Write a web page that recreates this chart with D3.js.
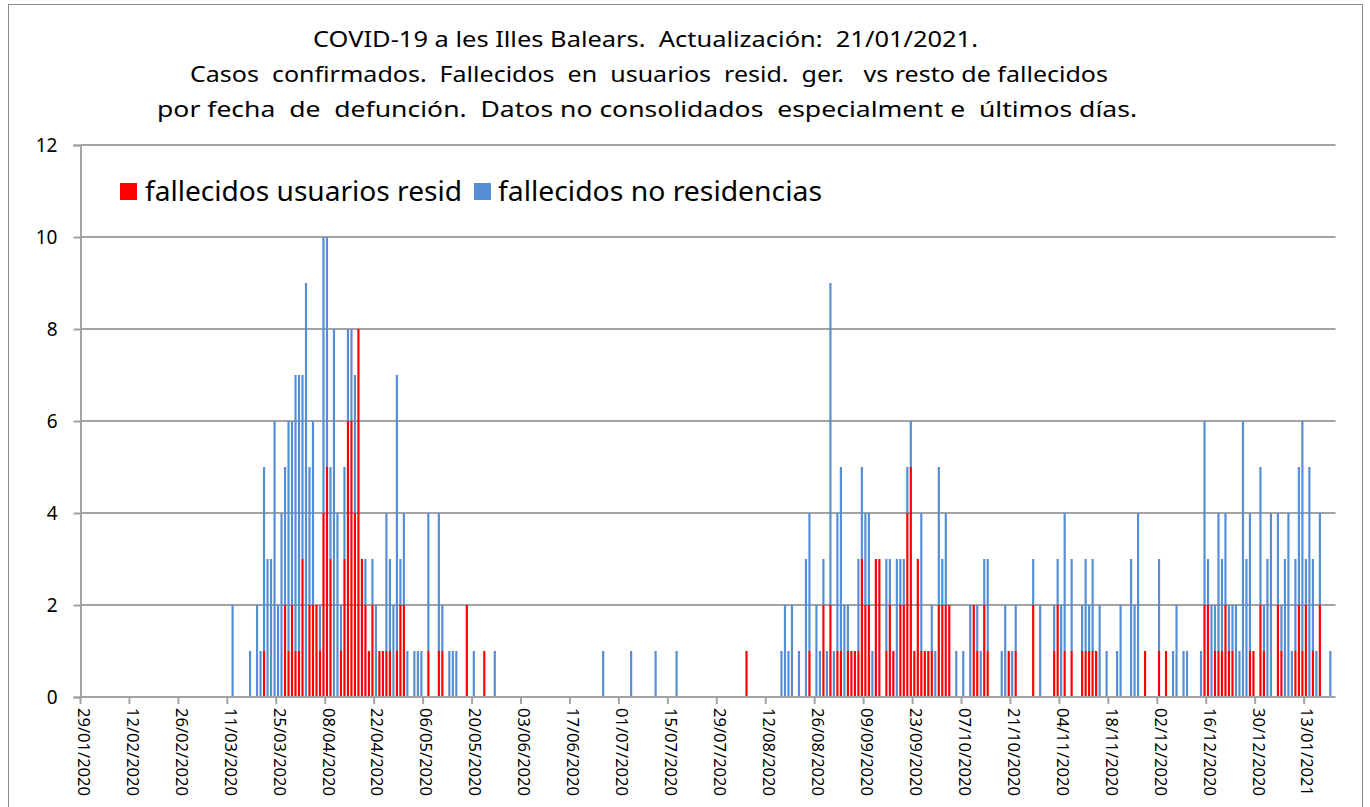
<!DOCTYPE html>
<html>
<head>
<meta charset="utf-8">
<script src="https://cdn.jsdelivr.net/npm/d3@7"></script>
<style>
  body { margin: 0; background: #fff; }
  svg { display: block; }
  text { font-family: "Noto Sans", "DejaVu Sans", sans-serif; fill: #000; white-space: pre; }
</style>
</head>
<body>
<svg id="chart" width="1370" height="807" xml:space="preserve"></svg>
<script>
// ---------------- DATA ----------------
const firstDay = "29/01/2020";
const dayCount = 359; // 29/01/2020 .. 21/01/2021

const titleLines = [
  "COVID-19 a les Illes Balears.  Actualización:  21/01/2021.",
  "Casos  confirmados.  Fallecidos  en  usuarios  resid.  ger.   vs resto de fallecidos",
  "por fecha  de  defunción.  Datos no consolidados  especialment e  últimos días."
];
const seriesNames = ["fallecidos usuarios resid", "fallecidos no residencias"];

const xTickLabels = [
  "29/01/2020","12/02/2020","26/02/2020","11/03/2020","25/03/2020","08/04/2020",
  "22/04/2020","06/05/2020","20/05/2020","03/06/2020","17/06/2020","01/07/2020",
  "15/07/2020","29/07/2020","12/08/2020","26/08/2020","09/09/2020","23/09/2020",
  "07/10/2020","21/10/2020","04/11/2020","18/11/2020","02/12/2020","16/12/2020",
  "30/12/2020","13/01/2021"
];
const yTicks = [0, 2, 4, 6, 8, 10, 12];

// deaths of nursing-home residents, one value per day from 29/01/2020 (10 days per line)
const residencias = [
  0,0,0,0,0,0,0,0,0,0,   // day 0
  0,0,0,0,0,0,0,0,0,0,   // 10
  0,0,0,0,0,0,0,0,0,0,   // 20
  0,0,0,0,0,0,0,0,0,0,   // 30
  0,0,0,0,0,0,0,0,0,0,   // 40
  0,0,1,0,0,0,0,0,2,1,   // 50
  2,1,1,3,0,2,2,2,1,4,   // 60
  5,3,0,0,1,3,6,6,4,8,   // 70
  3,2,1,2,0,1,1,1,1,0,   // 80
  1,2,2,0,0,0,0,0,0,1,   // 90
  0,0,1,1,0,0,0,0,0,0,   // 100
  2,0,0,0,0,1,0,0,0,0,   // 110
  0,0,0,0,0,0,0,0,0,0,   // 120
  0,0,0,0,0,0,0,0,0,0,   // 130
  0,0,0,0,0,0,0,0,0,0,   // 140
  0,0,0,0,0,0,0,0,0,0,   // 150
  0,0,0,0,0,0,0,0,0,0,   // 160
  0,0,0,0,0,0,0,0,0,0,   // 170
  0,0,0,0,0,0,0,0,0,0,   // 180
  1,0,0,0,0,0,0,0,0,0,   // 190
  0,0,0,0,0,0,0,0,1,0,   // 200
  0,0,2,0,2,0,1,1,0,1,   // 210
  1,1,1,3,2,2,0,3,3,0,   // 220
  1,2,1,0,2,2,4,5,1,3,   // 230
  1,1,1,1,0,2,2,2,2,0,   // 240
  0,0,0,0,0,2,1,0,2,1,   // 250
  0,0,0,0,0,1,0,1,0,0,   // 260
  0,0,2,0,0,0,0,0,1,2,   // 270
  0,1,0,1,0,0,1,1,1,1,   // 280
  1,0,0,0,0,0,0,0,0,0,   // 290
  0,0,0,0,1,0,0,0,1,0,   // 300
  1,0,0,0,0,0,0,0,0,0,   // 310
  0,2,2,0,1,1,1,2,1,1,   // 320
  0,0,0,0,1,1,0,2,1,0,   // 330
  0,0,2,1,0,0,0,1,2,1,   // 340
  2,0,1,0,2,0,0,0,0      // 350
];
// deaths outside nursing homes, one value per day from 29/01/2020 (10 days per line)
const noResidencias = [
  0,0,0,0,0,0,0,0,0,0,   // day 0
  0,0,0,0,0,0,0,0,0,0,   // 10
  0,0,0,0,0,0,0,0,0,0,   // 20
  0,0,0,0,0,0,0,0,0,0,   // 30
  0,0,0,2,0,0,0,0,1,0,   // 40
  2,1,4,3,3,6,2,4,3,5,   // 50
  4,6,6,4,9,3,4,0,1,6,   // 60
  5,2,8,4,1,2,2,2,3,0,   // 70
  0,1,0,1,2,0,0,3,2,2,   // 80
  6,1,2,1,0,1,1,1,0,3,   // 90
  0,0,3,1,0,1,1,1,0,0,   // 100
  0,0,1,0,0,0,0,0,1,0,   // 110
  0,0,0,0,0,0,0,0,0,0,   // 120
  0,0,0,0,0,0,0,0,0,0,   // 130
  0,0,0,0,0,0,0,0,0,1,   // 140
  0,0,0,0,0,0,0,1,0,0,   // 150
  0,0,0,0,1,0,0,0,0,0,   // 160
  1,0,0,0,0,0,0,0,0,0,   // 170
  0,0,0,0,0,0,0,0,0,0,   // 180
  0,0,0,0,0,0,0,0,0,0,   // 190
  1,2,1,2,0,1,0,3,3,0,   // 200
  2,1,1,1,7,1,3,4,2,1,   // 210
  0,0,2,2,2,2,1,0,0,0,   // 220
  2,1,0,3,1,1,1,1,0,0,   // 230
  3,0,0,1,1,3,1,2,0,0,   // 240
  1,0,1,0,2,0,1,1,1,2,   // 250
  0,0,0,1,2,0,1,1,0,0,   // 260
  0,0,1,0,2,0,0,0,1,1,   // 270
  2,3,0,2,0,0,1,2,1,2,   // 280
  0,2,0,1,0,0,1,2,0,0,   // 290
  3,2,4,0,0,0,0,0,2,0,   // 300
  0,0,1,2,0,1,1,0,0,0,   // 310
  1,4,1,2,1,3,2,2,1,1,   // 320
  2,1,6,3,3,0,0,3,1,3,   // 330
  4,0,2,1,3,4,1,2,3,5,   // 340
  1,5,2,1,2,0,0,1,0      // 350
];

// ---------------- CHART ----------------
const plot = { left: 80.5, right: 1335.6, top: 145, bottom: 697 };
const colors = { resid: "#ff0000", noResid: "#558ed5", grid: "#a3a3a3" };

const parse = d3.timeParse("%d/%m/%Y");
const fmt = d3.timeFormat("%d/%m/%Y");
const start = parse(firstDay);
const categories = d3.range(dayCount).map(i => fmt(d3.timeDay.offset(start, i)));

const data = categories.map((c, i) => ({ cat: c, resid: residencias[i], noResid: noResidencias[i] }));

const svg = d3.select("#chart");

// chart border
svg.append("rect")
  .attr("x", 8.5).attr("y", 4.5).attr("width", 1354).attr("height", 820)
  .attr("fill", "none").attr("stroke", "#8c8c8c").attr("stroke-width", 1);

const x = d3.scaleBand().domain(categories).range([plot.left, plot.right]).padding(0);
const y = d3.scaleLinear().domain([0, 12]).range([plot.bottom, plot.top]);

// gridlines
svg.append("g").selectAll("line").data(yTicks.filter(t => t > 0)).join("line")
  .attr("x1", plot.left).attr("x2", plot.right)
  .attr("y1", d => y(d)).attr("y2", d => y(d))
  .attr("stroke", colors.grid).attr("stroke-width", 2);

// bars (stacked: residents at the bottom, others on top)
const barW = x.bandwidth() * 0.62;
const barOff = (x.bandwidth() - barW) / 2;
const stack = d3.stack().keys(["resid", "noResid"])(data);
const gBars = svg.append("g");
stack.forEach(layer => {
  gBars.append("g").attr("fill", colors[layer.key])
    .selectAll("rect").data(layer.filter(d => d[1] > d[0])).join("rect")
    .attr("x", d => x(d.data.cat) + barOff)
    .attr("width", barW)
    .attr("y", d => y(d[1]))
    .attr("height", d => y(d[0]) - y(d[1]));
});

// y axis
const yAxis = d3.axisLeft(y).tickValues(yTicks).tickSize(7).tickPadding(16).tickFormat(d3.format("d"));
const gy = svg.append("g").attr("transform", `translate(${plot.left},0)`).call(yAxis);
gy.select(".domain").attr("stroke", colors.grid).attr("stroke-width", 2);
gy.selectAll(".tick line").attr("stroke", colors.grid).attr("stroke-width", 2);
gy.selectAll(".tick text").style("font-size", "19px").attr("fill", "#000").attr("dy", "0.35em");

// x axis
svg.append("line")
  .attr("x1", plot.left).attr("x2", plot.right).attr("y1", plot.bottom).attr("y2", plot.bottom)
  .attr("stroke", colors.grid).attr("stroke-width", 2);
const gx = svg.append("g");
gx.selectAll("line").data(xTickLabels).join("line")
  .attr("x1", d => x(d)).attr("x2", d => x(d))
  .attr("y1", plot.bottom).attr("y2", plot.bottom + 7)
  .attr("stroke", colors.grid).attr("stroke-width", 2);
gx.selectAll("text").data(xTickLabels).join("text")
  .attr("transform", d => `translate(${x(d) + x.bandwidth() / 2 + 1},${plot.bottom + 11}) rotate(90)`)
  .attr("dy", "0.35em")
  .attr("text-anchor", "start")
  .attr("textLength", 88).attr("lengthAdjust", "spacingAndGlyphs")
  .style("font-size", "15.5px")
  .text(d => d);

// title
const titleSpec = [
  { cx: 645.5, y: 47, len: 665 },
  { cx: 649, y: 82, len: 918 },
  { cx: 647, y: 117, len: 980 }
];
svg.append("g").selectAll("text").data(titleLines).join("text")
  .attr("x", (d, i) => titleSpec[i].cx).attr("y", (d, i) => titleSpec[i].y)
  .attr("text-anchor", "middle")
  .attr("textLength", (d, i) => titleSpec[i].len).attr("lengthAdjust", "spacingAndGlyphs")
  .style("font-size", "22px")
  .text(d => d);

// legend
const legendSpec = [
  { key: "resid", sx: 120, tx: 145, len: 317 },
  { key: "noResid", sx: 474, tx: 498, len: 324 }
];
const gl = svg.append("g");
legendSpec.forEach((s, i) => {
  gl.append("rect").attr("x", s.sx).attr("y", 183).attr("width", 17).attr("height", 17).attr("fill", colors[s.key]);
  gl.append("text").attr("x", s.tx).attr("y", 201)
    .attr("textLength", s.len).attr("lengthAdjust", "spacingAndGlyphs")
    .style("font-size", "27px").text(seriesNames[i]);
});
</script>
</body>
</html>
